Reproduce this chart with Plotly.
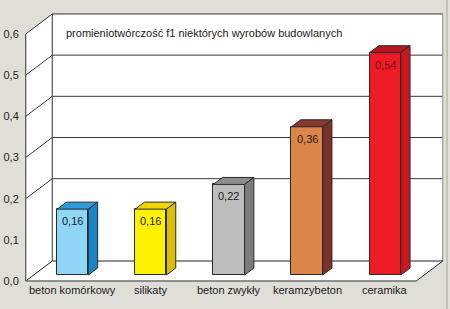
import plotly.graph_objects as go

# ---- data ----
categories = ["beton komórkowy", "silikaty", "beton zwykły", "keramzybeton", "ceramika"]
values = [0.16, 0.16, 0.22, 0.36, 0.54]
value_labels = ["0,16", "0,16", "0,22", "0,36", "0,54"]
tick_values = [0.0, 0.1, 0.2, 0.3, 0.4, 0.5, 0.6]
tick_labels = ["0,0", "0,1", "0,2", "0,3", "0,4", "0,5", "0,6"]
grid_values = [0.2, 0.3, 0.4, 0.5]
title_text = "promieniotwórczość f1 niektórych wyrobów budowlanych"

front_colors = ["#8fd6f6", "#fff200", "#bdbdbd", "#dc8548", "#ee1c25"]
top_colors = ["#2a9cdc", "#f2d400", "#8c8c8c", "#8a3a30", "#b8161d"]
side_colors = ["#1b84c4", "#dcbf00", "#7c7c7c", "#7a3128", "#c8171f"]
text_colors = ["#1a1a1a", "#1a1a1a", "#1a1a1a", "#2a1a10", "#7a1015"]

FONT = "Liberation Sans, Arial, sans-serif"
BG = "#dfdfd8"

# ---- pseudo-3D geometry (pixel scale of axes) ----
W, H = 450, 309
ML = 25
PX_X = 78.1        # px per category
PX_Y = 411.7       # px per value unit
X0_PX = 72.75      # px of category 0 centre
Y0_PX = 275.0      # px of value 0 on the bar front plane
DX_PER_D = 1.325   # x px per depth px
WALL_FRONT, WALL_BACK = -6.0, 14.0
BAR_FRONT, BAR_BACK = 0.0, 7.0
HALF = 0.2
XL, XR = -0.5, 4.5
VTOP = 0.6


def P(x, v, d):
    return (x + d * DX_PER_D / PX_X, v + d / PX_Y)


def poly(pts):
    s = "M " + " L ".join(f"{x:.5f},{y:.5f}" for x, y in pts) + " Z"
    return s


def line(p0, p1, color="#333333", width=1, layer="below"):
    return dict(type="line", xref="x", yref="y", x0=p0[0], y0=p0[1], x1=p1[0], y1=p1[1],
                line=dict(color=color, width=width), layer=layer)


shapes = []
# walls
shapes.append(dict(type="path", xref="x", yref="y", layer="below", fillcolor="white",
                   line=dict(width=0),
                   path=poly([P(XL, 0, WALL_FRONT), P(XL, VTOP, WALL_FRONT), P(XL, VTOP, WALL_BACK), P(XL, 0, WALL_BACK)])))
shapes.append(dict(type="path", xref="x", yref="y", layer="below", fillcolor="white",
                   line=dict(width=0),
                   path=poly([P(XL, 0, WALL_BACK), P(XL, VTOP, WALL_BACK), P(XR, VTOP, WALL_BACK), P(XR, 0, WALL_BACK)])))
shapes.append(dict(type="path", xref="x", yref="y", layer="below", fillcolor="white",
                   line=dict(width=0),
                   path=poly([P(XL, 0, WALL_FRONT), P(XR, 0, WALL_FRONT), P(XR, 0, WALL_BACK), P(XL, 0, WALL_BACK)])))
# grid lines
for g in grid_values:
    shapes.append(line(P(XL, g, WALL_BACK), P(XR, g, WALL_BACK), "#3a3a3a"))
    shapes.append(line(P(XL, g, WALL_FRONT), P(XL, g, WALL_BACK), "#3a3a3a"))
# edges
shapes.append(line(P(XL, 0, WALL_FRONT), P(XL, VTOP, WALL_FRONT), "#333333"))
shapes.append(line(P(XL, VTOP, WALL_FRONT), P(XL, VTOP, WALL_BACK), "#333333"))
shapes.append(line(P(XL, 0, WALL_BACK), P(XL, VTOP, WALL_BACK), "#333333"))
shapes.append(line(P(XL, VTOP, WALL_BACK), P(XR, VTOP, WALL_BACK), "#333333"))
shapes.append(line(P(XR, 0, WALL_BACK), P(XR, VTOP, WALL_BACK), "#8a8a8a"))
shapes.append(line(P(XL, 0, WALL_BACK), P(XR, 0, WALL_BACK), "#222222"))
shapes.append(line(P(XL, 0, WALL_FRONT), P(XL, 0, WALL_BACK), "#222222"))
shapes.append(line(P(XR, 0, WALL_FRONT), P(XR, 0, WALL_BACK), "#222222"))
shapes.append(line(P(XL, 0, WALL_FRONT), P(XR, 0, WALL_FRONT), "#6f6f6f", 1.5))

# bar top and side faces
for i, v in enumerate(values):
    shapes.append(dict(type="path", xref="x", yref="y", layer="above", fillcolor=top_colors[i],
                       line=dict(color="#2a2a2a", width=1),
                       path=poly([P(i - HALF, v, BAR_FRONT), P(i + HALF, v, BAR_FRONT),
                                  P(i + HALF, v, BAR_BACK), P(i - HALF, v, BAR_BACK)])))
    shapes.append(dict(type="path", xref="x", yref="y", layer="above", fillcolor=side_colors[i],
                       line=dict(color="#2a2a2a", width=1),
                       path=poly([P(i + HALF, 0, BAR_FRONT), P(i + HALF, v, BAR_FRONT),
                                  P(i + HALF, v, BAR_BACK), P(i + HALF, 0, BAR_BACK)])))

# right panel border
shapes.append(dict(type="line", xref="paper", yref="paper",
                   x0=(447 - ML) / (W - ML), x1=(447 - ML) / (W - ML), y0=0, y1=1,
                   line=dict(color="#c4c4bc", width=2), layer="below"))

fig = go.Figure()
fig.add_trace(go.Bar(x=list(range(len(values))), y=values, width=2 * HALF,
                     marker=dict(color=front_colors, line=dict(color="#2a2a2a", width=1)),
                     hoverinfo="skip", showlegend=False))
# invisible trace for front-plane axis ticks
fig.add_trace(go.Scatter(x=[0], y=[0], yaxis="y2", mode="markers", marker=dict(opacity=0),
                         hoverinfo="skip", showlegend=False))

annotations = []
for i, v in enumerate(values):
    annotations.append(dict(x=i, y=v, xref="x", yref="y", text=value_labels[i], showarrow=False,
                            yanchor="top", yshift=-4,
                            font=dict(family=FONT, size=11, color=text_colors[i])))
    annotations.append(dict(x=i, y=(Y0_PX - 290) / PX_Y, xref="x", yref="y", text=categories[i],
                            showarrow=False, yanchor="middle",
                            font=dict(family=FONT, size=11, color="#1a1a1a")))
annotations.append(dict(x=(64 - X0_PX) / PX_X, y=(Y0_PX - 33) / PX_Y, xref="x", yref="y",
                        text=title_text, showarrow=False, xanchor="left", yanchor="middle",
                        font=dict(family=FONT, size=11, color="#1a1a1a")))

fig.update_layout(
    width=W, height=H,
    margin=dict(l=ML, r=0, t=0, b=0),
    paper_bgcolor=BG, plot_bgcolor=BG,
    shapes=shapes, annotations=annotations,
    xaxis=dict(range=[(ML - X0_PX) / PX_X, (W - X0_PX) / PX_X], visible=False, fixedrange=True),
    yaxis=dict(range=[(Y0_PX - H) / PX_Y, Y0_PX / PX_Y], visible=False, fixedrange=True),
    yaxis2=dict(range=[(Y0_PX + 6 - H) / PX_Y, (Y0_PX + 6) / PX_Y], overlaying="y", side="left",
                tickvals=tick_values, ticktext=tick_labels, showgrid=False, zeroline=False,
                showline=False, ticks="outside", ticklen=0, ticklabelstandoff=3,
                tickfont=dict(family=FONT, size=11, color="#222222"), fixedrange=True),
    bargap=0,
)

fig.write_html("out.html")
